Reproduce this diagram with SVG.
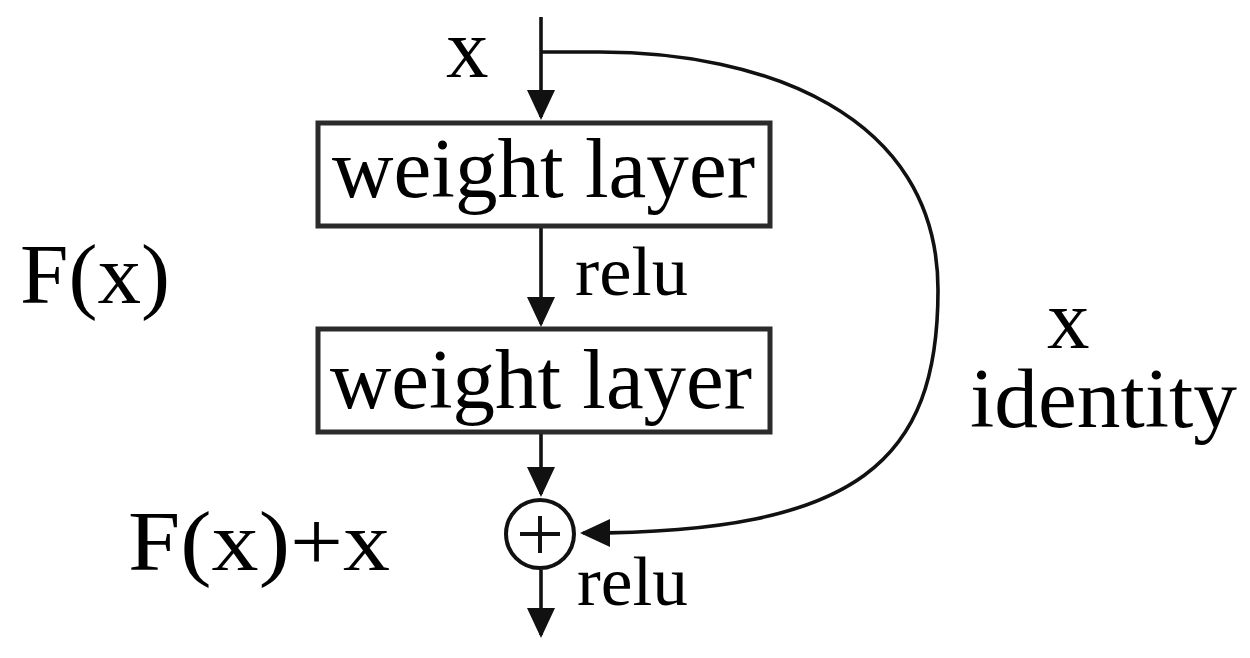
<svg xmlns="http://www.w3.org/2000/svg" width="1250" height="658" viewBox="0 0 1250 658">
  <style>
    .lbl { font-family: "Liberation Serif", "DejaVu Serif", serif; fill: #000; }
    .big { font-size: 85px; }
    .small { font-size: 70px; }
    .box { fill: #fff; stroke: #2b2b2b; stroke-width: 5; }
    .wire { fill: none; stroke: #111; stroke-width: 3.6; }
  </style>
  <defs>
    <marker id="arrow" markerUnits="userSpaceOnUse" markerWidth="32" markerHeight="30" viewBox="0 0 32 30" refX="27" refY="14.5" orient="auto">
      <path d="M0,0.5 L30,14.5 L0,28.5 Z" fill="#111"/>
    </marker>
  </defs>
  <rect width="1250" height="658" fill="#fff"/>

  <g id="connectors">
    <line class="wire" x1="541" y1="17" x2="541" y2="117" marker-end="url(#arrow)"/>
    <line class="wire" x1="541" y1="226" x2="541" y2="324" marker-end="url(#arrow)"/>
    <line class="wire" x1="541" y1="432" x2="541" y2="494" marker-end="url(#arrow)"/>
    <line class="wire" x1="541" y1="570" x2="541" y2="635" marker-end="url(#arrow)"/>
    <path class="wire" d="M541,52 H600 C760,52 938,112 938,290 C938,460 860,533 583,533" marker-end="url(#arrow)"/>
  </g>

  <g id="label-x-in">
    <text class="lbl big" x="446" y="77">x</text>
  </g>

  <g id="weight-layer-1">
    <rect class="box" x="318" y="123" width="452" height="103"/>
    <text class="lbl big" x="332" y="197" textLength="423" lengthAdjust="spacingAndGlyphs">weight layer</text>
  </g>

  <g id="label-relu-1">
    <text class="lbl small" x="575" y="295" textLength="113" lengthAdjust="spacingAndGlyphs">relu</text>
  </g>

  <g id="weight-layer-2">
    <rect class="box" x="318" y="329" width="452" height="103"/>
    <text class="lbl big" x="330" y="408" textLength="422" lengthAdjust="spacingAndGlyphs">weight layer</text>
  </g>

  <g id="add-node">
    <circle cx="540" cy="534" r="34" fill="#fff" stroke="#111" stroke-width="4"/>
    <line x1="520" y1="534" x2="560" y2="534" stroke="#111" stroke-width="4"/>
    <line x1="540" y1="516" x2="540" y2="553" stroke="#111" stroke-width="4"/>
  </g>

  <g id="label-relu-2">
    <text class="lbl small" x="577" y="605" textLength="111" lengthAdjust="spacingAndGlyphs">relu</text>
  </g>

  <g id="label-Fx">
    <text class="lbl big" x="20" y="303" textLength="150" lengthAdjust="spacingAndGlyphs">F(x)</text>
  </g>

  <g id="label-Fx-plus-x">
    <text class="lbl big" x="128" y="570" textLength="262" lengthAdjust="spacingAndGlyphs">F(x)+x</text>
  </g>

  <g id="label-identity">
    <text class="lbl big"><tspan x="1047" y="348">x</tspan><tspan x="970" y="427" textLength="267" lengthAdjust="spacingAndGlyphs">identity</tspan></text>
  </g>
</svg>
